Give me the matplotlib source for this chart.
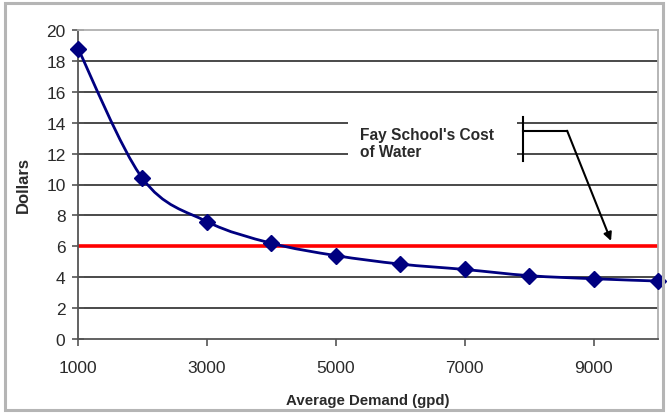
import numpy as np
import matplotlib.pyplot as plt
from matplotlib.path import Path
from matplotlib.patches import PathPatch, Rectangle

plt.rcParams['font.family'] = ['Liberation Sans', 'DejaVu Sans']

# data
demand = [1000, 2000, 3000, 4000, 5000, 6000, 7000, 8000, 9000, 10000]
dollars = [18.8, 10.4, 7.6, 6.2, 5.4, 4.85, 4.5, 4.1, 3.9, 3.75]
fay_cost = 6.0
x_ticks = [1000, 3000, 5000, 7000, 9000]
y_ticks = list(range(0, 21, 2))

NAVY = '#000080'
GRID = '#3a3a3a'
TXT = '#2a2a2a'


def smooth_path(xs, ys):
    """Excel-style smoothed line as cubic bezier segments"""
    p = np.column_stack([xs, ys]).astype(float)
    n = len(p)
    verts = [p[0]]
    codes = [Path.MOVETO]
    for i in range(n - 1):
        p0 = p[i - 1] if i > 0 else p[i]
        p3 = p[i + 2] if i + 2 < n else p[i + 1]
        c1 = p[i] + (p[i + 1] - p0) / 6
        c2 = p[i + 1] - (p3 - p[i]) / 6
        verts += [c1, c2, p[i + 1]]
        codes += [Path.CURVE4] * 3
    return Path(verts, codes)


fig = plt.figure(figsize=(6.68, 4.14), dpi=100)
ax = fig.add_axes([78 / 668, 1 - 340 / 414, 580 / 668, 309 / 414])

# outer frame of the picture
fig.patches.append(Rectangle((0.008, 0.007), 0.985, 0.983, transform=fig.transFigure,
                             fill=False, edgecolor='#b5b5b5', lw=2.2))

ax.set_xlim(1000, 10000)
ax.set_ylim(0, 20)

for y in y_ticks[1:-1]:
    ax.axhline(y, color=GRID, lw=1.3, zorder=1)

ax.axhline(fay_cost, color='#ff0000', lw=2.6, zorder=2)

ax.add_patch(PathPatch(smooth_path(demand, dollars), fill=False, edgecolor=NAVY,
                       lw=2, zorder=3))
ax.plot(demand, dollars, linestyle='none', marker='D', color=NAVY, ms=8, zorder=4,
        clip_on=False)

# annotation box
ax.add_patch(Rectangle((0.4655, 0.566), 0.2915, 0.178, transform=ax.transAxes,
                       facecolor='white', edgecolor='none', zorder=4.5))
ax.text(0.486, 0.635, "Fay School's Cost\nof Water", transform=ax.transAxes,
        fontsize=11.2, fontweight='bold', color=TXT, va='center', ha='left',
        linespacing=1.2, zorder=5)
bx, by_top, by_bot = 7905, 14.4, 11.55
ax.plot([bx, bx], [by_bot, by_top], color='black', lw=1.5, zorder=6)
ax.plot([bx, 8590], [13.48, 13.48], color='black', lw=1.5, zorder=6)
ax.annotate('', xy=(9271, 6.35), xytext=(8590, 13.48),
            arrowprops=dict(arrowstyle='-|>', color='black', lw=1.5,
                            mutation_scale=12, shrinkA=0, shrinkB=0), zorder=6)

for s in ['top', 'right']:
    ax.spines[s].set_color('#b0b0b0')
    ax.spines[s].set_linewidth(1.3)
for s in ['left', 'bottom']:
    ax.spines[s].set_color('#555555')
    ax.spines[s].set_linewidth(1.3)

ax.set_xticks(x_ticks)
ax.set_yticks(y_ticks)
ax.tick_params(axis='y', direction='inout', length=8, width=1.2, color='#555555',
               labelsize=12.5, labelcolor=TXT, pad=5)
ax.tick_params(axis='x', direction='out', length=5, width=1.2, color='#555555',
               labelsize=12.5, labelcolor=TXT, pad=10)

ax.set_xlabel('Average Demand (gpd)', fontsize=10.8, fontweight='bold', color=TXT,
              labelpad=13)
ax.set_ylabel('Dollars', fontsize=12, fontweight='bold', color=TXT, labelpad=11)

fig.savefig('out.png', dpi=100)
